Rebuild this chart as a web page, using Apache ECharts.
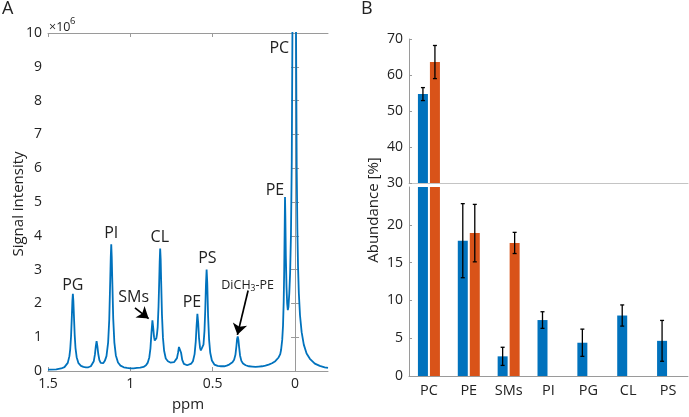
<!DOCTYPE html>
<html><head><meta charset="utf-8">
<script src="https://cdn.jsdelivr.net/npm/echarts@6/dist/echarts.min.js"></script>
<style>html,body{margin:0;padding:0;background:#fff}#c{width:689px;height:417px}</style>
</head><body><div id="c"></div>
<script>
// ---- Panel A: 1H NMR spectrum (ppm, signal x1e6) ----
const spectrumPpm = [1.50,1.45,1.42,1.40,1.39,1.38,1.37,1.365,1.36,1.355,1.352,1.349,1.346,1.342,1.338,1.333,1.326,1.315,1.30,1.285,1.27,1.255,1.24,1.23,1.222,1.215,1.21,1.205,1.20,1.195,1.188,1.18,1.172,1.165,1.155,1.145,1.135,1.128,1.122,1.119,1.116,1.113,1.11,1.104,1.097,1.088,1.075,1.06,1.04,1.02,1.00,0.98,0.96,0.94,0.92,0.905,0.895,0.885,0.878,0.872,0.866,0.861,0.856,0.852,0.847,0.842,0.838,0.834,0.829,0.825,0.822,0.819,0.816,0.813,0.808,0.802,0.795,0.785,0.772,0.757,0.745,0.735,0.725,0.717,0.71,0.705,0.701,0.697,0.692,0.685,0.675,0.665,0.655,0.645,0.63,0.62,0.61,0.603,0.598,0.593,0.588,0.583,0.577,0.572,0.567,0.562,0.556,0.55,0.545,0.541,0.537,0.533,0.528,0.522,0.515,0.505,0.49,0.47,0.45,0.43,0.415,0.40,0.39,0.38,0.37,0.362,0.356,0.352,0.348,0.344,0.34,0.334,0.326,0.316,0.30,0.28,0.26,0.24,0.22,0.20,0.18,0.16,0.14,0.12,0.10,0.09,0.085,0.078,0.073,0.069,0.066,0.063,0.061,0.059,0.056,0.052,0.048,0.044,0.04,0.035,0.03,0.025,0.02,0.016,0.010,0.004,-0.002,-0.006,-0.010,-0.014,-0.018,-0.023,-0.03,-0.04,-0.053,-0.07,-0.09,-0.12,-0.15,-0.18,-0.20];
const spectrumVal = [0.04,0.05,0.075,0.115,0.16,0.24,0.44,0.65,1.03,1.65,2.07,2.28,2.08,1.56,1.07,0.68,0.41,0.23,0.15,0.12,0.11,0.11,0.14,0.19,0.29,0.49,0.72,0.88,0.73,0.51,0.32,0.24,0.22,0.23,0.30,0.44,0.84,1.53,2.72,3.36,3.75,3.37,2.74,1.55,0.84,0.46,0.25,0.16,0.11,0.09,0.08,0.08,0.09,0.10,0.12,0.17,0.24,0.40,0.67,1.12,1.50,1.27,1.00,0.90,0.88,0.97,1.10,1.30,1.90,2.62,3.22,3.62,3.32,2.66,1.66,0.98,0.60,0.37,0.29,0.25,0.24,0.26,0.30,0.38,0.55,0.71,0.76,0.71,0.54,0.33,0.21,0.18,0.17,0.18,0.22,0.29,0.50,0.87,1.32,1.69,1.42,0.97,0.69,0.61,0.60,0.64,0.78,1.18,1.84,2.55,3.00,2.60,1.62,0.93,0.54,0.31,0.19,0.15,0.14,0.14,0.16,0.19,0.22,0.26,0.33,0.48,0.74,0.95,1.02,0.93,0.72,0.46,0.30,0.22,0.17,0.14,0.13,0.12,0.13,0.14,0.16,0.19,0.23,0.29,0.40,0.50,0.62,0.92,1.35,2.05,2.95,4.25,5.15,4.60,3.40,2.50,2.00,1.80,1.90,2.30,2.90,4.00,6.20,10,30,60,30,10,6.0,4.2,3.1,2.3,1.65,1.15,0.78,0.52,0.36,0.22,0.15,0.11,0.09];
const xTicksA = [0, 0.5, 1, 1.5];
const peakLabels = ['PG','PI','SMs','CL','PE','PS','PE','PC'];
const peakLabelPpm = [1.349, 1.116, 0.98, 0.821, 0.626, 0.532, 0.122, 0.096];
const peakLabelVal = [2.53, 4.08, 2.19, 3.94, 2.04, 3.32, 5.34, 9.55];

// ---- Panel B: abundance [%] ----
const categories = ['PC','PE','SMs','PI','PG','CL','PS'];
const blueVals = [54.7, 17.9, 2.6, 7.4, 4.4, 8.0, 4.65];
const blueErr  = [1.8, 4.9, 1.2, 1.1, 1.8, 1.4, 2.7];
const orangeVals = [63.6, 18.9, 17.6, 0, 0, 0, 0];
const orangeErr  = [4.6, 3.8, 1.4, 0, 0, 0, 0];
const lowerTicks = [0, 5, 10, 15, 20];

const AX = '#9a9a9a', TXT = '#222', FONT = 'Open Sans';
const BLUE = '#0072BD', ORANGE = '#D95319';
const UPPER_MIN = 30, LOWER_MAX = 25;

const spectrum = spectrumPpm.map((p, i) => [p, spectrumVal[i]]);

const labelPoints = peakLabels.map((t, i) => ({
  coord: [peakLabelPpm[i], peakLabelVal[i]], symbol: 'circle', symbolSize: 0,
  label: { show: true, position: 'inside', formatter: t, fontSize: 16, color: TXT, fontFamily: FONT }
}));
labelPoints.push({
  coord: [0.288, 2.53], symbol: 'circle', symbolSize: 0,
  label: { show: true, position: 'inside', formatter: '{a|DiCH}{s|3}{a|-PE}', color: TXT,
    rich: { a: { fontSize: 12.5, fontFamily: FONT, color: TXT, height: 16 },
            s: { fontSize: 8.5, fontFamily: FONT, color: TXT, padding: [7, 0, 0, 0], height: 16 } } }
});

function errItems(vals, errs, side) {
  return vals.map((v, i) => [i, v, errs[i], side]).filter(d => d[2] > 0);
}
const errAll = errItems(blueVals, blueErr, -1).concat(errItems(orangeVals, orangeErr, 1));

function makeErr(lo, hi) {
  return function (params, api) {
    const i = api.value(0), v = api.value(1), e = api.value(2), s = api.value(3);
    if (v - e < lo || v + e > hi) return null;
    const t = api.coord([i, v + e]), b = api.coord([i, v - e]);
    const x = t[0] + s * 6, cw = 2;
    const st = { stroke: '#000', lineWidth: 1.3 };
    return { type: 'group', children: [
      { type: 'line', shape: { x1: x, y1: t[1], x2: x, y2: b[1] }, style: st },
      { type: 'line', shape: { x1: x - cw, y1: t[1], x2: x + cw, y2: t[1] }, style: st },
      { type: 'line', shape: { x1: x - cw, y1: b[1], x2: x + cw, y2: b[1] }, style: st }
    ]};
  };
}

const tickLbl = { fontSize: 14, color: TXT, fontFamily: FONT };
const chart = echarts.init(document.getElementById('c'), null, { renderer: 'canvas' });
chart.setOption({
  animation: false,
  backgroundColor: '#fff',
  grid: [
    { left: 48, right: 361, top: 33, bottom: 41 },
    { left: 409, right: 1, top: 39, height: 144 },
    { left: 409, right: 1, top: 187, bottom: 41 }
  ],
  xAxis: [
    { type: 'value', gridIndex: 0, min: -0.2, max: 1.5, inverse: true,
      axisLine: { show: true, onZero: false, lineStyle: { color: AX } },
      axisTick: { show: true, inside: true, length: 4, customValues: xTicksA, lineStyle: { color: AX } },
      axisLabel: Object.assign({ customValues: xTicksA, margin: 6 }, tickLbl),
      splitLine: { show: false },
      name: 'ppm', nameLocation: 'middle', nameGap: 26,
      nameTextStyle: { fontSize: 15, color: TXT, fontFamily: FONT } },
    { type: 'value', gridIndex: 0, min: -0.2, max: 1.5, inverse: true, position: 'top',
      axisLine: { show: true, onZero: false, lineStyle: { color: AX } },
      axisTick: { show: true, inside: true, length: 4, customValues: xTicksA, lineStyle: { color: AX } },
      axisLabel: { show: false }, splitLine: { show: false } },
    { type: 'category', gridIndex: 1, data: categories,
      axisLine: { show: true, lineStyle: { color: '#c4c4c4' } },
      axisTick: { show: false }, axisLabel: { show: false }, splitLine: { show: false } },
    { type: 'category', gridIndex: 2, data: categories,
      axisLine: { show: true, lineStyle: { color: AX } },
      axisTick: { show: false },
      axisLabel: Object.assign({ margin: 7 }, tickLbl, { fontSize: 14.5 }), splitLine: { show: false } }
  ],
  yAxis: [
    { type: 'value', gridIndex: 0, min: 0, max: 10, interval: 1,
      axisLine: { show: true, lineStyle: { color: AX } },
      axisTick: { show: true, inside: true, length: 4, lineStyle: { color: AX } },
      axisLabel: Object.assign({ margin: 6 }, tickLbl), splitLine: { show: false } },
    { type: 'value', gridIndex: 0, min: 0, max: 10, interval: 1, position: 'right',
      axisLine: { show: true, lineStyle: { color: AX } },
      axisTick: { show: true, inside: true, length: 4, lineStyle: { color: AX } },
      axisLabel: { show: false }, splitLine: { show: false } },
    { type: 'value', gridIndex: 1, min: UPPER_MIN, max: 70, interval: 10,
      axisLine: { show: true, lineStyle: { color: AX } },
      axisTick: { show: true, inside: true, length: 3, lineStyle: { color: AX } },
      axisLabel: Object.assign({ margin: 6 }, tickLbl), splitLine: { show: false } },
    { type: 'value', gridIndex: 2, min: 0, max: LOWER_MAX, interval: 5,
      axisLine: { show: true, lineStyle: { color: AX } },
      axisTick: { show: true, inside: true, length: 3, customValues: lowerTicks, lineStyle: { color: AX } },
      axisLabel: Object.assign({ margin: 6, customValues: lowerTicks }, tickLbl), splitLine: { show: false } }
  ],
  series: [
    { type: 'line', xAxisIndex: 0, yAxisIndex: 0, data: spectrum, showSymbol: false, clip: true,
      lineStyle: { color: BLUE, width: 1.8 }, itemStyle: { color: BLUE },
      markPoint: { silent: true, data: labelPoints, itemStyle: { color: 'transparent' } },
      markLine: { silent: true, symbol: ['none', 'arrow'], symbolSize: 11, label: { show: false },
        lineStyle: { color: '#000', width: 1.7, type: 'solid' }, itemStyle: { color: '#000' },
        emphasis: { disabled: true },
        data: [
          [{ coord: [0.972, 1.87] }, { coord: [0.889, 1.55] }],
          [{ coord: [0.285, 2.38] }, { coord: [0.350, 1.07] }]
        ] } },
    { type: 'bar', xAxisIndex: 2, yAxisIndex: 2, barWidth: 10, barGap: '20%', clip: true,
      data: blueVals.map(v => v > UPPER_MIN ? v : '-'), itemStyle: { color: BLUE } },
    { type: 'bar', xAxisIndex: 2, yAxisIndex: 2, barWidth: 10, barGap: '20%', clip: true,
      data: orangeVals.map(v => v > UPPER_MIN ? v : '-'), itemStyle: { color: ORANGE } },
    { type: 'bar', xAxisIndex: 3, yAxisIndex: 3, barWidth: 10, barGap: '20%', clip: true,
      data: blueVals, itemStyle: { color: BLUE } },
    { type: 'bar', xAxisIndex: 3, yAxisIndex: 3, barWidth: 10, barGap: '20%', clip: true,
      data: orangeVals, itemStyle: { color: ORANGE } },
    { type: 'custom', xAxisIndex: 2, yAxisIndex: 2, clip: true, data: errAll,
      encode: { x: 0, y: 1 }, renderItem: makeErr(UPPER_MIN, 70), z: 5 },
    { type: 'custom', xAxisIndex: 3, yAxisIndex: 3, clip: true, data: errAll,
      encode: { x: 0, y: 1 }, renderItem: makeErr(-1, LOWER_MAX), z: 5 }
  ],
  graphic: [
    { type: 'text', left: 2, top: 0, style: { text: 'A', fontSize: 18, fill: TXT, fontFamily: FONT } },
    { type: 'text', left: 361, top: 0, style: { text: 'B', fontSize: 18, fill: TXT, fontFamily: FONT } },
    { type: 'text', x: 49, y: 27, style: { text: '×10', fontSize: 12.5, fill: TXT, fontFamily: FONT, verticalAlign: 'middle' } },
    { type: 'text', x: 70, y: 21, style: { text: '6', fontSize: 9.5, fill: TXT, fontFamily: FONT, verticalAlign: 'middle' } },
    { type: 'text', x: 19, y: 204, rotation: Math.PI / 2,
      style: { text: 'Signal intensity', fontSize: 15, fill: TXT, fontFamily: FONT, align: 'center', verticalAlign: 'middle' } },
    { type: 'text', x: 374, y: 210, rotation: Math.PI / 2,
      style: { text: 'Abundance [%]', fontSize: 15, fill: TXT, fontFamily: FONT, align: 'center', verticalAlign: 'middle' } }
  ]
});
</script>
</body></html>
